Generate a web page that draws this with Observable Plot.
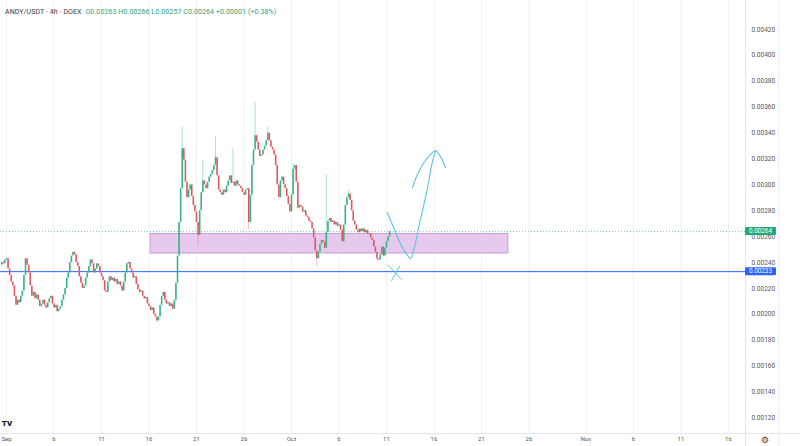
<!DOCTYPE html>
<html><head><meta charset="utf-8">
<script src="https://cdn.jsdelivr.net/npm/d3@7"></script>
<script src="https://cdn.jsdelivr.net/npm/@observablehq/plot@0.6"></script>
<style>
body{margin:0;background:#fff;font-family:Roboto,"Noto Sans",sans-serif;}
#wrap{position:relative;width:800px;height:446px;overflow:hidden;}
#title{position:absolute;left:5px;top:8px;font-size:7px;color:#3a3a3a;white-space:nowrap;letter-spacing:0.1px;}
#title .v{color:#2aa37a;margin-left:2px;}
</style></head><body>
<div id="wrap"><div id="chart"></div>
<div id="title">ANDY/USDT · 4h · DOEX <span class="v">O0.00263 H0.00266 L0.00257 C0.00264 +0.00001 (+0.38%)</span></div>
</div>
<script>
// ---- data ----
const startTime = "2024-08-31T12:00:00Z";   // first 4h candle
const firstOpen = 0.00238;
const closes = [
0.00240,0.00239,0.00242,0.00243,0.00235,0.00230,0.00225,0.00222,0.00214,0.00207,
0.00211,0.00209,0.00214,0.00218,0.00230,0.00243,0.00238,0.00232,0.00222,0.00214,
0.00217,0.00212,0.00215,0.00211,0.00206,0.00208,0.00211,0.00207,0.00205,0.00209,
0.00212,0.00214,0.00208,0.00205,0.00207,0.00202,0.00204,0.00206,0.00211,0.00215,
0.00220,0.00228,0.00232,0.00240,0.00245,0.00248,0.00246,0.00240,0.00237,0.00229,
0.00224,0.00220,0.00222,0.00228,0.00232,0.00237,0.00242,0.00239,0.00232,0.00235,
0.00239,0.00237,0.00232,0.00229,0.00226,0.00218,0.00217,0.00225,0.00229,0.00226,
0.00228,0.00225,0.00227,0.00223,0.00225,0.00222,0.00218,0.00225,0.00232,0.00239,
0.00240,0.00235,0.00232,0.00228,0.00229,0.00223,0.00219,0.00217,0.00218,0.00214,
0.00212,0.00213,0.00208,0.00206,0.00203,0.00205,0.00200,0.00198,0.00195,0.00198,
0.00207,0.00214,0.00217,0.00211,0.00208,0.00209,0.00206,0.00208,0.00204,0.00211,
0.00224,0.00245,0.00271,0.00297,0.00328,0.00319,0.00302,0.00290,0.00296,0.00300,
0.00291,0.00284,0.00279,0.00271,0.00261,0.00280,0.00294,0.00303,0.00300,0.00297,
0.00302,0.00306,0.00308,0.00311,0.00315,0.00321,0.00307,0.00296,0.00294,0.00292,
0.00296,0.00294,0.00299,0.00303,0.00307,0.00301,0.00302,0.00299,0.00303,0.00300,
0.00299,0.00297,0.00294,0.00292,0.00296,0.00297,0.00271,0.00292,0.00315,0.00327,
0.00338,0.00333,0.00327,0.00322,0.00323,0.00327,0.00330,0.00334,0.00340,0.00334,
0.00329,0.00327,0.00323,0.00315,0.00300,0.00290,0.00303,0.00306,0.00300,0.00297,
0.00291,0.00285,0.00279,0.00292,0.00312,0.00315,0.00302,0.00282,0.00284,0.00283,
0.00279,0.00280,0.00276,0.00275,0.00272,0.00271,0.00266,0.00259,0.00249,0.00243,
0.00248,0.00254,0.00257,0.00256,0.00251,0.00263,0.00272,0.00274,0.00271,0.00272,
0.00269,0.00271,0.00268,0.00269,0.00265,0.00256,0.00269,0.00284,0.00290,0.00293,
0.00288,0.00280,0.00272,0.00269,0.00265,0.00263,0.00266,0.00264,0.00266,0.00263,
0.00265,0.00262,0.00262,0.00259,0.00257,0.00252,0.00248,0.00243,0.00242,0.00246,
0.00252,0.00245,0.00251,0.00256,0.00260,0.00264
];
// notable wicks: [candle index, high, low]
const wicks = [
  [98, null, 0.00192], [114, 0.00346, null], [124, null, 0.00251], [127, 0.00320, null],
  [135, 0.00338, null], [146, 0.00329, null], [156, null, 0.00264], [160, 0.00365, null],
  [168, 0.00346, null], [184, 0.00318, null], [199, null, 0.00236], [205, 0.00309, null],
  [219, 0.00297, null], [237, null, 0.00240]
];
const lastPrice = 0.00264;
const supportPrice = 0.00233;
const zone = [{x1: "2024-09-16T04:00:00Z", x2: "2024-10-23T20:00:00Z", y1: 0.00247, y2: 0.00262}];
const xDomain = ["2024-08-31T08:50:00Z", "2024-11-17T19:00:00Z"];
const yDomain = [0.00108, 0.004424];
const yTicks = [0.0012,0.0014,0.0016,0.0018,0.0020,0.0022,0.0024,0.0026,0.0028,0.0030,0.0032,0.0034,0.0036,0.0038,0.0040,0.0042];
const xTickDates = ["2024-09-01","2024-09-06","2024-09-11","2024-09-16","2024-09-21","2024-09-26","2024-10-01","2024-10-06","2024-10-11","2024-10-16","2024-10-21","2024-10-26","2024-11-01","2024-11-06","2024-11-11","2024-11-16"];
const xTickLabels = ["Sep","6","11","16","21","26","Oct","6","11","16","21","26","Nov","6","11","16"];
// hand-drawn annotation strokes
const strokeArrow = [["2024-10-11T02:00:00Z",0.002787],["2024-10-11T18:00:00Z",0.002671],["2024-10-12T11:00:00Z",0.002548],["2024-10-13T05:00:00Z",0.002455],["2024-10-13T13:00:00Z",0.002432],["2024-10-14T01:00:00Z",0.002548],["2024-10-14T09:00:00Z",0.002671],["2024-10-14T19:00:00Z",0.002802],["2024-10-15T08:00:00Z",0.00298],["2024-10-15T18:00:00Z",0.00315],["2024-10-16T04:00:00Z",0.003266]];
const strokeHead = [["2024-10-13T18:00:00Z",0.00298],["2024-10-14T04:00:00Z",0.003065],["2024-10-14T21:00:00Z",0.003165],["2024-10-15T15:00:00Z",0.003235],["2024-10-16T04:00:00Z",0.003266],["2024-10-16T16:00:00Z",0.00322],["2024-10-17T05:00:00Z",0.003134]];
const strokeX1 = [["2024-10-11T05:00:00Z",0.002378],["2024-10-12T14:00:00Z",0.00227]];
const strokeX2 = [["2024-10-11T13:00:00Z",0.002262],["2024-10-12T09:00:00Z",0.00237]];

// ---- build ----
const t0 = new Date(startTime).getTime();
const H4 = 4 * 3600 * 1000;
const candles = closes.map((c, i) => {
  const o = i === 0 ? firstOpen : closes[i - 1];
  let hi = Math.max(o, c), lo = Math.min(o, c);
  const w = wicks.find(w => w[0] === i);
  if (w) { if (w[1] != null) hi = Math.max(hi, w[1]); if (w[2] != null) lo = Math.min(lo, w[2]); }
  return {date: new Date(t0 + i * H4), open: o, close: c, high: hi, low: lo};
});
const UP = "#34b384", DOWN = "#e0565e";
const col = d => d.close >= d.open ? UP : DOWN;
const pts = a => a.map(([d, p]) => ({date: new Date(d), price: p}));
const fmt = d3.format(".5f");

const chart = Plot.plot({
  width: 800, height: 446,
  marginLeft: 0, marginRight: 55, marginTop: 0, marginBottom: 13,
  style: {fontFamily: "Roboto, sans-serif", fontSize: "6.5px", color: "#555", background: "#fff", overflow: "visible"},
  x: {type: "utc", domain: xDomain.map(d => new Date(d))},
  y: {domain: yDomain},
  marks: [
    Plot.ruleX(xTickDates.map(d => new Date(d)), {stroke: "#f1f1f1"}),
    Plot.rect(zone, {x1: d => new Date(d.x1), x2: d => new Date(d.x2), y1: "y1", y2: "y2", fill: "#e8c9ee", stroke: "#bd8bcb", strokeWidth: 0.8}),
    Plot.ruleY([lastPrice], {stroke: "#6cc7a3", strokeDasharray: "1,2", strokeWidth: 0.8}),
    Plot.ruleY([supportPrice], {stroke: "#2962ff", strokeWidth: 1}),
    Plot.ruleX(candles, {x: "date", y1: "low", y2: "high", stroke: col, strokeOpacity: 0.5, strokeWidth: 0.8, insetTop: -1.5, insetBottom: -1.5}),
    Plot.ruleX(candles, {x: "date", y1: "open", y2: "close", stroke: col, strokeWidth: 1.55}),
    Plot.line(pts(strokeArrow), {x: "date", y: "price", curve: "catmull-rom", stroke: "#5cc4dc", strokeWidth: 1.1}),
    Plot.line(pts(strokeHead), {x: "date", y: "price", curve: "catmull-rom", stroke: "#5cc4dc", strokeWidth: 1.1}),
    Plot.line(pts(strokeX1), {x: "date", y: "price", stroke: "#5cc4dc", strokeWidth: 1}),
    Plot.line(pts(strokeX2), {x: "date", y: "price", stroke: "#5cc4dc", strokeWidth: 1}),
    Plot.axisY(yTicks, {anchor: "right", tickSize: 0, tickPadding: 6, tickFormat: fmt, fontSize: 6.5, fill: "#555", label: null}),
    Plot.axisX(xTickDates.map(d => new Date(d)), {anchor: "bottom", tickSize: 0, tickPadding: 3, tickFormat: (d, i) => xTickLabels[i], fontSize: 6, fill: "#555", label: null})
  ]
});
document.getElementById("chart").appendChild(chart);

// chrome: panel borders, price tags, icons
const svg = d3.select(chart);
const ys = chart.scale("y");
svg.append("line").attr("x1", 745.5).attr("x2", 745.5).attr("y1", 0).attr("y2", 446).attr("stroke", "#e3e5ea");
svg.append("line").attr("x1", 0).attr("x2", 800).attr("y1", 433.5).attr("y2", 433.5).attr("stroke", "#e3e5ea");
svg.append("line").attr("x1", 778.5).attr("x2", 778.5).attr("y1", 0).attr("y2", 446).attr("stroke", "#eef0f3");
function tag(price, bg) {
  const y = ys.apply(price);
  svg.append("rect").attr("x", 745).attr("y", y - 4).attr("width", 31).attr("height", 8).attr("fill", bg).attr("rx", 1);
  svg.append("text").attr("x", 760.5).attr("y", y).attr("dy", "0.35em").attr("text-anchor", "middle")
    .attr("fill", "#fff").attr("font-size", 6.3).attr("font-family", "Roboto, sans-serif").text(fmt(price));
}
tag(lastPrice, "#22ab7a");
tag(supportPrice, "#2962ff");
svg.append("text").attr("x", 765).attr("y", 440).attr("dy", "0.35em").attr("text-anchor", "middle")
  .attr("font-size", 9).attr("font-family", "DejaVu Sans").attr("fill", "#444").text("⚙");
svg.append("text").attr("x", 7).attr("y", 426).attr("font-size", 8).attr("font-weight", 900)
  .attr("font-family", "Roboto, sans-serif").attr("fill", "#131722").text("TV");
</script>
</body></html>
